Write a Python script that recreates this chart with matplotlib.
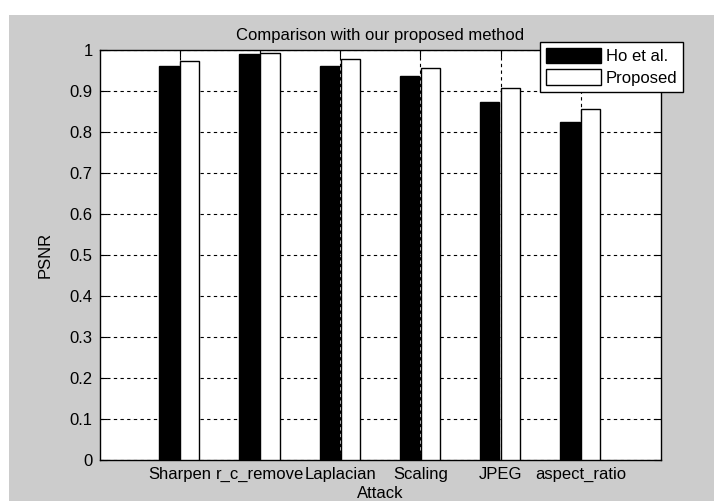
import matplotlib
matplotlib.use("Agg")
import matplotlib.pyplot as plt
from matplotlib.patches import Rectangle
import numpy as np

attacks = ["Sharpen", "r_c_remove", "Laplacian", "Scaling", "JPEG", "aspect_ratio"]
ho_et_al = [0.959, 0.989, 0.959, 0.936, 0.873, 0.823]
proposed = [0.973, 0.991, 0.976, 0.955, 0.906, 0.856]
yticks = [0, 0.1, 0.2, 0.3, 0.4, 0.5, 0.6, 0.7, 0.8, 0.9, 1]

plt.rcParams["font.family"] = ["Liberation Sans", "DejaVu Sans"]

W, H = 714, 501
fig = plt.figure(figsize=(W / 100, H / 100), dpi=100, facecolor="white")
# grey MATLAB-style figure background
fig.patches.append(Rectangle((9 / W, 0), 1, (H - 15) / H, transform=fig.transFigure,
                             facecolor="#cccccc", edgecolor="none", zorder=-10))

ax = fig.add_axes([99.5 / W, (H - 460) / H, (661 - 99.5) / W, (460 - 49.5) / H])
ax.set_facecolor("white")

x = np.arange(1, len(attacks) + 1)
w = 0.24
ax.bar(x - 0.135, ho_et_al, w, color="black", edgecolor="black", linewidth=1,
       label="Ho et al.", zorder=3)
ax.bar(x + 0.125, proposed, w, color="white", edgecolor="black", linewidth=1,
       label="Proposed", zorder=3)

ax.set_xlim(0, 7)
ax.set_ylim(0, 1)
ax.set_xticks(x)
ax.set_xticklabels(attacks)
ax.set_yticks(yticks)
ax.set_yticklabels([f"{v:g}" for v in yticks])
ax.tick_params(direction="in", top=True, right=True, length=5, width=0.8,
               labelsize=12, pad=5)
ax.grid(True, color="black", linestyle=(0, (3, 3)), linewidth=0.8)
ax.set_axisbelow(True)
for s in ax.spines.values():
    s.set_linewidth(1)

ax.set_title("Comparison with our proposed method", fontsize=12, pad=7)
ax.set_xlabel("Attack", fontsize=12, labelpad=3)
ax.set_ylabel("PSNR", fontsize=12, labelpad=12)

leg = ax.legend(loc="upper right", bbox_to_anchor=(683 / W, (H - 42) / H),
                bbox_transform=fig.transFigure, fontsize=12, fancybox=False,
                framealpha=1, edgecolor="black", handlelength=3.3,
                handleheight=1.05, handletextpad=0.3, labelspacing=0.3,
                borderpad=0.35, borderaxespad=0)
leg.get_frame().set_linewidth(1)

fig.savefig("out.png", dpi=100)
